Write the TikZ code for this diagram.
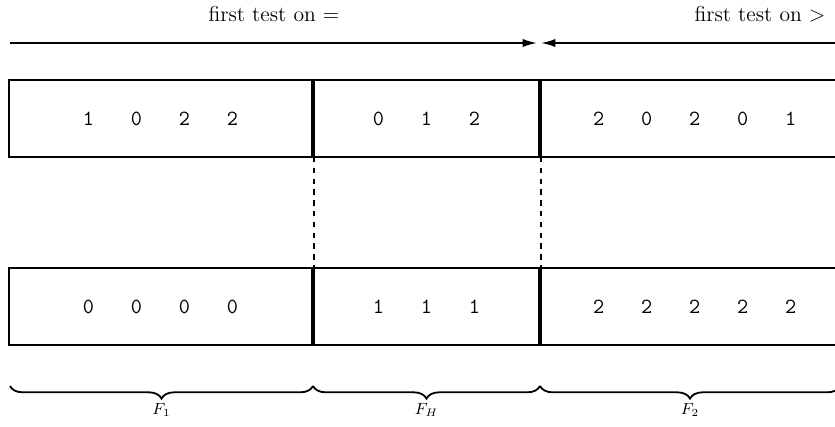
\documentclass[tikz,border=0pt]{standalone}
\usetikzlibrary{arrows.meta,positioning,decorations.pathreplacing}
\newlength{\digitpitch}
\setlength{\digitpitch}{0.936cm}
\newcommand{\dg}[1]{\makebox[\digitpitch]{\texttt{#1}}}
\tikzset{
  cell/.style={rectangle, draw, line width=1pt, minimum height=1.5cm,
               inner sep=0pt, outer sep=0pt, text centered, font=\large,
               anchor=north west},
  arrow/.style={-{Latex[length=8pt, width=4.6pt]}, line width=1pt},
  link/.style={dashed, line width=0.8pt},
  brace/.style={decorate, decoration={brace, mirror, amplitude=7pt},
                line width=1pt},
  part/.style={font=\small, below=6pt},
}
\begin{document}
\begin{tikzpicture}[x=0.0195cm, y=-0.0195cm]
\useasboundingbox (0,0) rectangle (835,426);

% -------------------- Top arrows --------------------
\coordinate (lstart) at (10,43);
\coordinate (lend) at (537,43);
\coordinate (rstart) at (838,43);
\coordinate (rend) at (541,43);
\draw[arrow] (lstart) -- (lend);
\draw[arrow] (rstart) -- (rend);
\node[font=\large] (eqlabel) at (274,14) {first test on $=$};
\node[font=\large] (gtlabel) at (760,14) {first test on $>$};

% -------------------- Upper row --------------------
\node[cell, minimum width=5.91cm] (top1) at (9,80)
    {\dg{1}\dg{0}\dg{2}\dg{2}};
\node[cell, minimum width=4.39cm, right=0.035cm of top1.north east, anchor=north west] (top2)
    {\dg{0}\dg{1}\dg{2}};
\node[cell, minimum width=6cm, right=0.035cm of top2.north east, anchor=north west] (top3)
    {\dg{2}\dg{0}\dg{2}\dg{0}\dg{1}\hspace{0.3cm}};

% -------------------- Lower row --------------------
\node[cell, minimum width=5.91cm] (bot1) at (9,268)
    {\dg{0}\dg{0}\dg{0}\dg{0}};
\node[cell, minimum width=4.39cm, right=0.035cm of bot1.north east, anchor=north west] (bot2)
    {\dg{1}\dg{1}\dg{1}};
\node[cell, minimum width=6cm, right=0.035cm of bot2.north east, anchor=north west] (bot3)
    {\dg{2}\dg{2}\dg{2}\dg{2}\dg{2}\hspace{0.3cm}};

% -------------------- Dashed links --------------------
\draw[link] (top2.south west) -- (bot2.north west);
\draw[link] (top3.south west) -- (bot3.north west);

% -------------------- Braces --------------------
\coordinate (br0) at (10,386);
\coordinate (br1) at (313,386);
\coordinate (br2) at (540,386);
\coordinate (br3) at (840,386);
\draw[brace] (br0) -- (br1) node[midway, part] (f1) {$F_1$};
\draw[brace] (br1) -- (br2) node[midway, part] (fh) {$F_H$};
\draw[brace] (br2) -- (br3) node[midway, part] (f2) {$F_2$};

\end{tikzpicture}
\end{document}
